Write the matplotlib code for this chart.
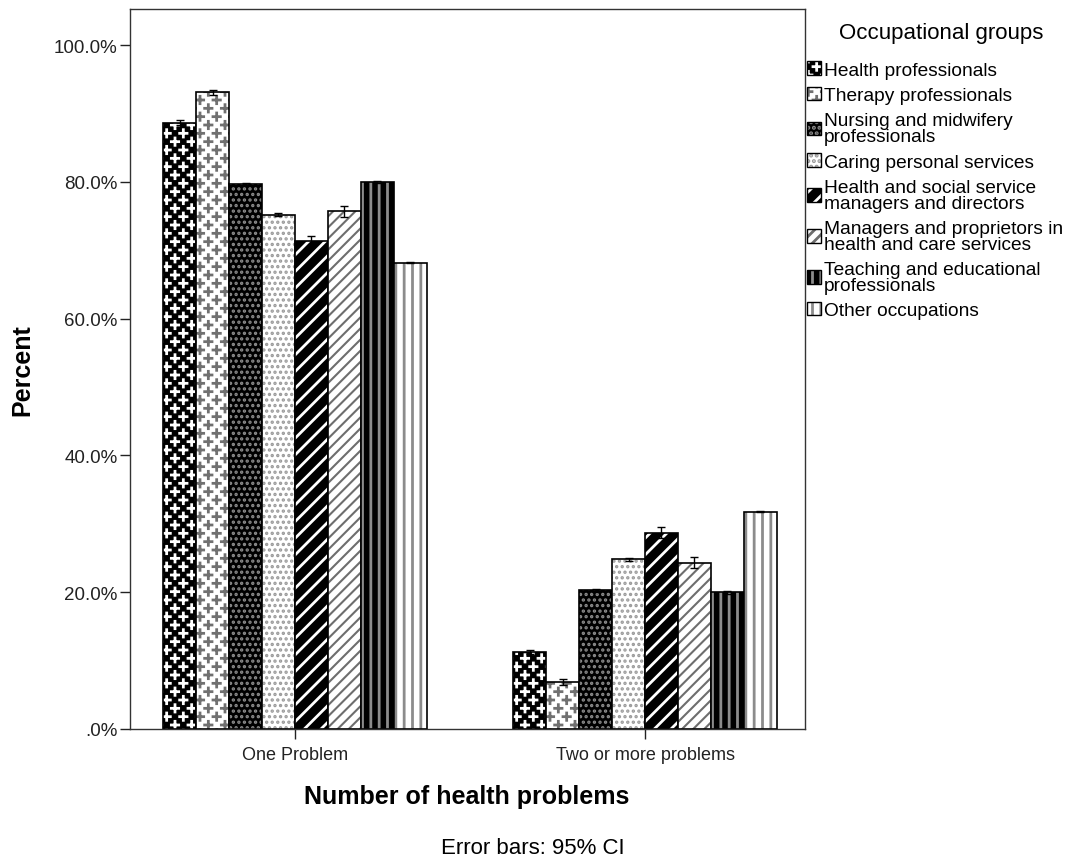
import numpy as np
import matplotlib
matplotlib.use("Agg")
import matplotlib.pyplot as plt
from matplotlib import hatch as mhatch
from matplotlib.patches import Patch
from matplotlib.path import Path
from matplotlib.ticker import FuncFormatter, FixedLocator

plt.rcParams["font.family"] = ["Liberation Sans", "DejaVu Sans"]
plt.rcParams["hatch.linewidth"] = 2.0

categories = ["One Problem", "Two or more problems"]
groups = [
    "Health professionals",
    "Therapy professionals",
    "Nursing and midwifery\nprofessionals",
    "Caring personal services",
    "Health and social service\nmanagers and directors",
    "Managers and proprietors in\nhealth and care services",
    "Teaching and educational\nprofessionals",
    "Other occupations",
]
one_problem = [88.7, 93.1, 79.7, 75.2, 71.3, 75.7, 80.0, 68.2]
two_or_more = [11.3, 6.9, 20.3, 24.8, 28.7, 24.3, 20.0, 31.8]
ci_one = [0.3, 0.4, 0.2, 0.2, 0.8, 0.8, 0.2, 0.1]
ci_two = [0.3, 0.4, 0.2, 0.2, 0.8, 0.8, 0.2, 0.1]

# (fill, hatch colour, hatch, hatch line width)
styles = [
    ("black", "white", "*", 2.0),
    ("white", "#707070", "*", 2.0),
    ("black", "#8c8c8c", "...", 1.6),
    ("white", "#9a9a9a", "...", 1.6),
    ("black", "white", "//", 2.0),
    ("white", "#6e6e6e", "///", 1.5),
    ("black", "#8c8c8c", "||", 2.0),
    ("white", "#8c8c8c", "||", 2.0),
]


class CrossHatch(mhatch.HatchPatternBase):
    """Small '+' marks on a staggered grid, drawn for the '*' hatch."""

    def __init__(self, hatch, density):
        self.num_cols = hatch.count("*") * density
        n = self.num_cols
        self.num_vertices = ((n + 1) ** 2 + n ** 2) * 4 if n else 0

    def set_vertices_and_codes(self, vertices, codes):
        n = self.num_cols
        step = 1.0 / n
        arm = 0.22 * step
        pts = []
        for r in range(2 * n + 1):
            y = r * step / 2
            if r % 2 == 0:
                xs = np.linspace(0, 1, n + 1)
            else:
                xs = np.linspace(step / 2, 1 - step / 2, n)
            for x in xs:
                pts += [(x - arm, y), (x + arm, y), (x, y - arm), (x, y + arm)]
        vertices[:] = np.array(pts)
        codes[0::2] = Path.MOVETO
        codes[1::2] = Path.LINETO


mhatch._hatch_types = [CrossHatch if t is mhatch.Stars else t
                       for t in mhatch._hatch_types]


def set_hatch_lw(patch, lw):
    if hasattr(patch, "set_hatch_linewidth"):
        patch.set_hatch_linewidth(lw)


fig = plt.figure(figsize=(10.79, 8.62), dpi=100)
ax = fig.add_axes([130 / 1079, 1 - 730 / 862, 675 / 1079, 720 / 862])

x = np.arange(len(categories))
width = 0.094
handles = []
for i, (face, hc, h, hlw) in enumerate(styles):
    pos = x + (i - 3.5) * width
    vals = [one_problem[i], two_or_more[i]]
    errs = [ci_one[i], ci_two[i]]
    bars = ax.bar(pos, vals, width, color=face, edgecolor=hc, hatch=h, linewidth=0)
    for b in bars:
        set_hatch_lw(b, hlw)
    ax.bar(pos, vals, width, fill=False, edgecolor="black", linewidth=1.2)
    ax.errorbar(pos, vals, yerr=errs, fmt="none", ecolor="black",
                elinewidth=1.0, capsize=3.2, capthick=1.0)
    swatch = Patch(facecolor=face, edgecolor=hc, hatch=h, linewidth=0)
    set_hatch_lw(swatch, hlw)
    handles.append((swatch, Patch(fill=False, edgecolor="black", linewidth=1.0)))

ax.set_xlim(-0.471, 1.457)
ax.set_ylim(0, 105.3)
ax.yaxis.set_major_locator(FixedLocator([0, 20, 40, 60, 80, 100]))
ax.yaxis.set_major_formatter(
    FuncFormatter(lambda v, p: f"{v:.1f}%" if v >= 1 else f"{v:.1f}%".lstrip("0")))
ax.set_xticks(x)
ax.set_xticklabels(categories, fontsize=13)
ax.tick_params(axis="y", labelsize=13.5, length=7, width=1, pad=2, colors="#222222")
ax.tick_params(axis="x", length=7, width=1, pad=5, colors="#222222")
for s in ax.spines.values():
    s.set_linewidth(1.0)
    s.set_color("#333333")

fig.text(22 / 1079, 1 - 370 / 862, "Percent", rotation=90, fontsize=18,
         fontweight="bold", ha="center", va="center")
fig.text(467 / 1079, 1 - 797 / 862, "Number of health problems", fontsize=18,
         fontweight="bold", ha="center", va="center")
fig.text(533 / 1079, 1 - 849 / 862, "Error bars: 95% CI", fontsize=16,
         ha="center", va="center")

fig.text(941 / 1079, 1 - 33 / 862, "Occupational groups", fontsize=16,
         ha="center", va="center")
leg = fig.legend(handles, groups, loc="upper left",
                 bbox_to_anchor=(807 / 1079, 1 - 62 / 862), frameon=False,
                 fontsize=13.8, handlelength=0.72, handleheight=0.72,
                 handletextpad=0.15, labelspacing=0.42, borderpad=0,
                 borderaxespad=0)
for t in leg.get_texts():
    t.set_linespacing(0.92)

fig.savefig("out.png", dpi=100)
